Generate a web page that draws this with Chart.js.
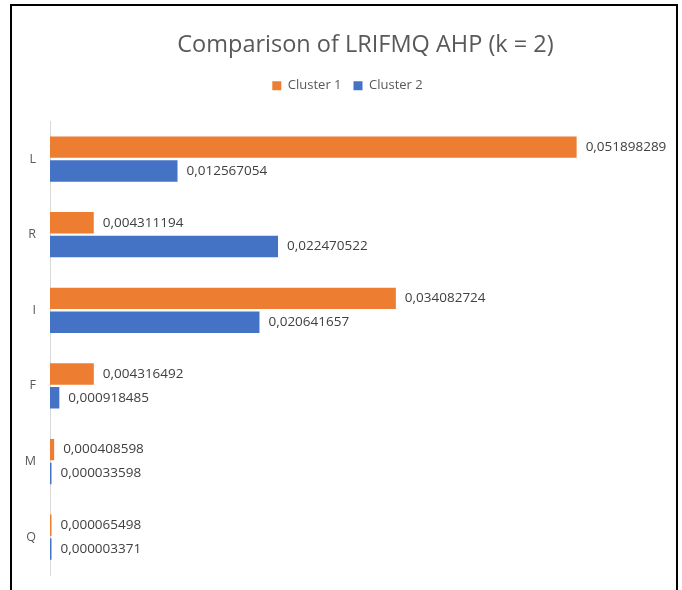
<!DOCTYPE html>
<html>
<head>
<meta charset="utf-8">
<script src="https://cdn.jsdelivr.net/npm/chart.js@4"></script>
<style>
  html, body { margin: 0; padding: 0; background: #fff; }
  #frame {
    position: absolute; left: 10px; top: 4px;
    width: 664px; height: 600px;
    border: 2px solid #000; border-bottom: none;
    background: #fff;
  }
  #wrap { position: absolute; left: 0; top: 2px; width: 664px; height: 584px; }
</style>
</head>
<body>
<div id="frame"><div id="wrap"><canvas id="ahpChart"></canvas></div></div>
<script>
// Datos del gráfico
const criteria = ['L', 'R', 'I', 'F', 'M', 'Q'];
const cluster1 = [0.051898289, 0.004311194, 0.034082724, 0.004316492, 0.000408598, 0.000065498];
const cluster2 = [0.012567054, 0.022470522, 0.020641657, 0.000918485, 0.000033598, 0.000003371];

// Etiquetas de valor al final de cada barra
const valueLabels = {
  id: 'valueLabels',
  afterDatasetsDraw(chart) {
    const c = chart.ctx;
    c.save();
    c.font = '13.5px "Open Sans", sans-serif';
    c.fillStyle = '#404040';
    c.textBaseline = 'middle';
    c.textAlign = 'left';
    chart.data.datasets.forEach((ds, i) => {
      chart.getDatasetMeta(i).data.forEach((bar, j) => {
        const txt = ds.data[j].toFixed(9).replace('.', ',');
        c.fillText(txt, bar.x + 9, bar.y);
      });
    });
    c.restore();
  }
};

// Desplaza un poco el título y la leyenda hacia la derecha, como en el original
const shiftHeader = {
  id: 'shiftHeader',
  afterLayout(chart) {
    if (chart.titleBlock) chart.titleBlock.left += 50;
    if (chart.legend) chart.legend.left += 14;
  }
};

const ctx = document.getElementById('ahpChart').getContext('2d');
new Chart(ctx, {
  type: 'bar',
  data: {
    labels: criteria,
    datasets: [{
      label: 'Cluster 1',
      data: cluster1,
      backgroundColor: '#ED7D31',
      barPercentage: 0.9,
      categoryPercentage: 0.63,
      minBarLength: 1.5
    }, {
      label: 'Cluster 2',
      data: cluster2,
      backgroundColor: '#4472C4',
      barPercentage: 0.9,
      categoryPercentage: 0.63,
      minBarLength: 1.5
    }]
  },
  plugins: [valueLabels, shiftHeader],
  options: {
    indexAxis: 'y',
    responsive: true,
    maintainAspectRatio: false,
    animation: false,
    layout: { padding: { top: 14, right: 7, bottom: 17, left: 0 } },
    plugins: {
      title: {
        display: true,
        text: 'Comparison of LRIFMQ AHP (k = 2)',
        color: '#595959',
        font: { family: '"Open Sans", sans-serif', size: 23.5, weight: 'normal' },
        padding: { top: 9, bottom: 8 }
      },
      legend: {
        position: 'top',
        labels: {
          color: '#595959',
          font: { family: '"Open Sans", sans-serif', size: 13 },
          boxWidth: 9,
          boxHeight: 9,
          padding: 12
        }
      },
      tooltip: { enabled: false }
    },
    scales: {
      x: {
        position: 'top',
        min: 0,
        max: 0.061,
        afterFit(scale) { scale.height = 19; },
        grid: { display: false },
        border: { display: false },
        ticks: { display: false }
      },
      y: {
        afterFit(scale) { scale.width = 38; },
        grid: { display: false },
        border: { display: true, color: '#d9d9d9', width: 1 },
        ticks: {
          color: '#595959',
          font: { family: '"Open Sans", sans-serif', size: 12.5 },
          padding: 6
        }
      }
    }
  }
});
</script>
</body>
</html>
